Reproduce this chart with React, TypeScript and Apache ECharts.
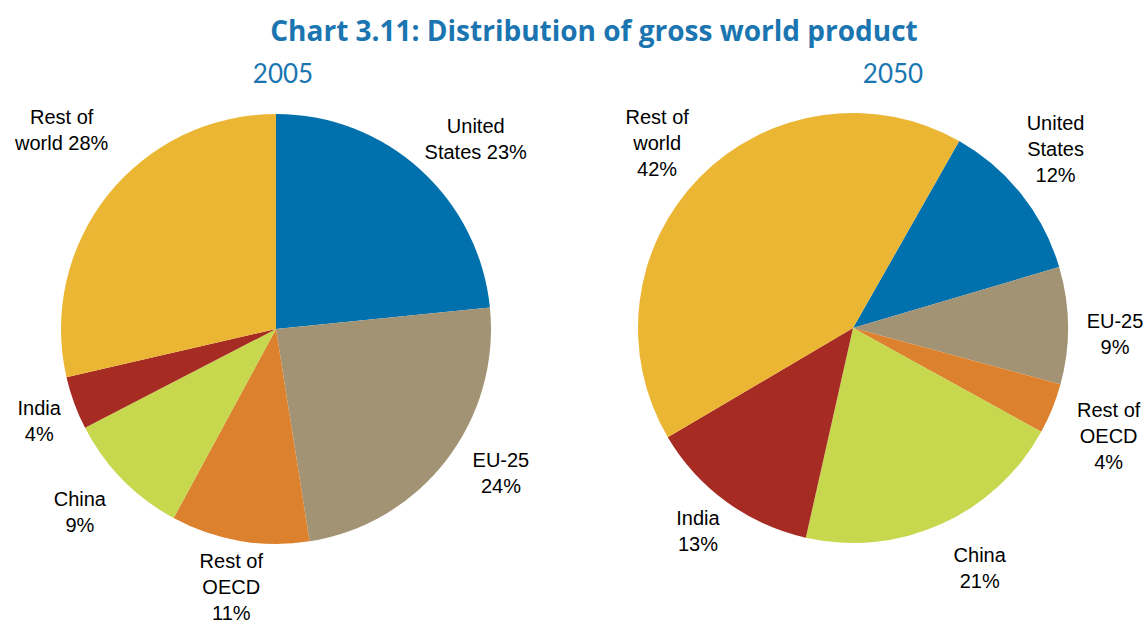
import React, { useEffect, useRef } from "react";
import * as echarts from "echarts";

const categories = ["United States", "EU-25", "Rest of OECD", "China", "India", "Rest of world"];
const labels2005 = ["United\nStates 23%", "EU-25\n24%", "Rest of\nOECD\n11%", "China\n9%", "India\n4%", "Rest of\nworld 28%"];
const labels2050 = ["United\nStates\n12%", "EU-25\n9%", "Rest of\nOECD\n4%", "China\n21%", "India\n13%", "Rest of\nworld\n42%"];
const values2005 = [23.4, 24.1, 10.4, 9.5, 4.0, 28.6];
const values2050 = [12.2, 8.8, 3.8, 20.5, 13.0, 41.7];
const colors = ["#0071ac", "#a39375", "#dc822e", "#c7d74e", "#a52b23", "#ebb633"];

// small label nudges (px) from the default radial placement
const nudge2005 = [[22, 7], [15, -18], [0, -3], [-7, -3], [12, 1], [-7, -34]];
const nudge2050 = [[-5, -14], [-3, 9], [10, 9], [18, -2], [1, -11], [-7, 1]];

const PIES = [
  { cx: 276, cy: 329, r: 215, start: 90, values: values2005, labels: labels2005, nudge: nudge2005 },
  { cx: 853, cy: 328, r: 215, start: 60.4, values: values2050, labels: labels2050, nudge: nudge2050 },
];
const LABEL_R = 265;

export default function App() {
  const ref = useRef<HTMLDivElement>(null);
  useEffect(() => {
    if (!ref.current) return;
    const chart = echarts.init(ref.current, null, { renderer: "svg" });
    const labelLayout = (params: any) => {
      const p = PIES[params.seriesIndex];
      const total = p.values.reduce((a, b) => a + b, 0);
      let cum = 0;
      for (let i = 0; i < params.dataIndex; i++) cum += p.values[i];
      const mid = (cum + p.values[params.dataIndex] / 2) / total * 360 + (90 - p.start);
      const rad = (mid * Math.PI) / 180;
      const n = p.nudge[params.dataIndex];
      return {
        x: p.cx + LABEL_R * Math.sin(rad) + n[0],
        y: p.cy - LABEL_R * Math.cos(rad) + n[1],
        align: "center",
        verticalAlign: "middle",
      };
    };
    chart.setOption({
      animation: false,
      title: [
        {
          text: "Chart 3.11: Distribution of gross world product",
          left: 589,
          top: 11,
          textAlign: "center",
          textStyle: { color: "#1a75b0", fontSize: 28, fontWeight: "bold", fontFamily: "Open Sans" },
        },
        {
          text: "2005",
          left: 278,
          top: 55,
          textAlign: "center",
          textStyle: { color: "#1a75b0", fontSize: 26, fontWeight: "normal", fontFamily: "Lato" },
        },
        {
          text: "2050",
          left: 888,
          top: 55,
          textAlign: "center",
          textStyle: { color: "#1a75b0", fontSize: 26, fontWeight: "normal", fontFamily: "Lato" },
        },
      ],
      color: colors,
      series: PIES.map((p) => ({
        type: "pie",
        center: [p.cx, p.cy],
        radius: p.r,
        startAngle: p.start,
        clockwise: true,
        silent: true,
        label: {
          show: true,
          position: "inside",
          overflow: "none",
          formatter: (d: any) => p.labels[d.dataIndex],
          color: "#000",
          fontSize: 20,
          lineHeight: 26,
          fontFamily: "Liberation Sans, Arial, sans-serif",
        },
        labelLine: { show: false },
        labelLayout,
        data: categories.map((c, i) => ({ name: c, value: p.values[i] })),
      })),
    });
    return () => chart.dispose();
  }, []);
  return (
    <div
      ref={ref}
      style={{ position: "absolute", left: 0, top: 0, width: 1145, height: 624, background: "#fff" }}
    />
  );
}
